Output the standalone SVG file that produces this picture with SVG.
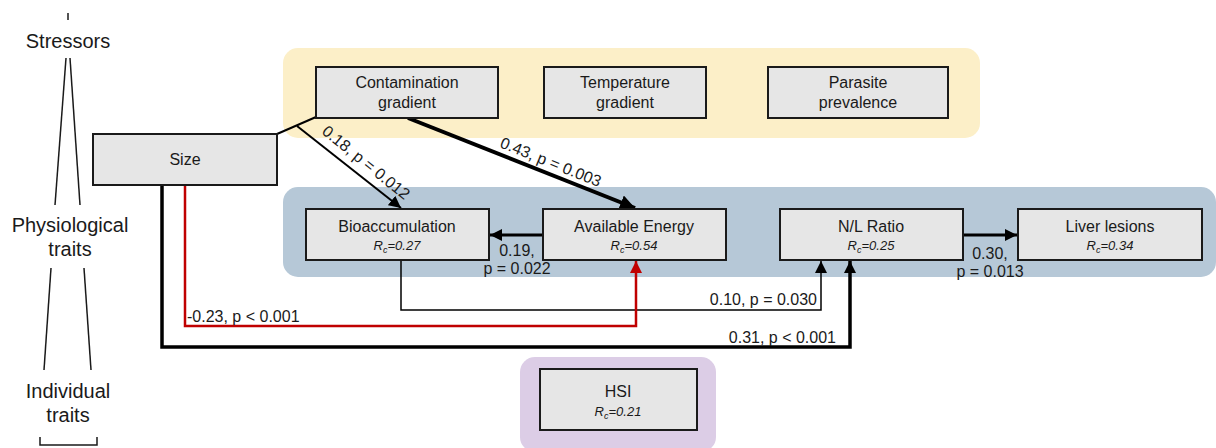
<svg xmlns="http://www.w3.org/2000/svg" width="1216" height="448" viewBox="0 0 1216 448">
<defs>
<style>
text{font-family:"Liberation Sans",Arial,sans-serif;fill:#1a1a1a}
.bg{stroke:none}
.box{fill:#e6e6e6;stroke:#1a1a1a;stroke-width:2}
.t{font-size:16px;text-anchor:middle}
.rc{font-size:13px;font-style:italic;text-anchor:middle}
.side{font-size:20px;text-anchor:middle}
.lbl{font-size:16px}
.c{fill:none;stroke:#000}
.red{stroke:#c00000}
.side-l{fill:none;stroke:#1a1a1a;stroke-width:1.5}
</style>
<marker id="ah" viewBox="0 0 10 10" refX="10" refY="5" markerWidth="12" markerHeight="12" markerUnits="userSpaceOnUse" orient="auto"><path d="M0,0 L10,5 L0,10 z" fill="#000"/></marker>
<marker id="ahb" viewBox="0 0 10 10" refX="10" refY="5" markerWidth="15" markerHeight="15" markerUnits="userSpaceOnUse" orient="auto"><path d="M0,0 L10,5 L0,10 z" fill="#000"/></marker>
<marker id="ahr" viewBox="0 0 10 10" refX="10" refY="5" markerWidth="12" markerHeight="12" markerUnits="userSpaceOnUse" orient="auto"><path d="M0,0 L10,5 L0,10 z" fill="#c00000"/></marker>
</defs>
<rect width="1216" height="448" fill="#fff"/>

<g id="side-labels">
<line class="side-l" x1="68" y1="13" x2="68" y2="20"/>
<text class="side" x="68" y="48">Stressors</text>
<line class="side-l" x1="66" y1="58" x2="55" y2="205"/>
<line class="side-l" x1="70" y1="58" x2="80" y2="205"/>
<text class="side" x="70" y="232">Physiological</text>
<text class="side" x="70" y="256">traits</text>
<line class="side-l" x1="51" y1="268" x2="44" y2="370"/>
<line class="side-l" x1="84" y1="268" x2="91" y2="370"/>
<text class="side" x="68" y="398">Individual</text>
<text class="side" x="68" y="422">traits</text>
<path class="side-l" d="M40,437 V445 H97 V437"/>
</g>

<g id="groups">
<rect class="bg" x="283" y="48" width="697" height="90" rx="15" fill="#fcefc8"/>
<rect class="bg" x="283" y="187" width="933" height="90" rx="15" fill="#b6c8d7"/>
<rect class="bg" x="520" y="357" width="196" height="95" rx="15" fill="#dccde6"/>
</g>

<g id="connectors">
<line class="c" x1="277" y1="134" x2="316" y2="117" stroke-width="2"/>
<line class="c" x1="297" y1="126" x2="401" y2="208" stroke-width="2" marker-end="url(#ah)"/>
<line class="c" x1="408" y1="118" x2="635" y2="208" stroke-width="4" marker-end="url(#ahb)"/>
<line class="c" x1="543" y1="235" x2="490" y2="235" stroke-width="3" marker-end="url(#ah)"/>
<path class="c" d="M401,260 V310 H821 V261" stroke-width="1.5" marker-end="url(#ah)"/>
<path class="c red" d="M185,185 V326 H636 V261" stroke-width="2.5" marker-end="url(#ahr)"/>
<path class="c" d="M162,185 V347 H850 V261" stroke-width="3.5" marker-end="url(#ah)"/>
<line class="c" x1="963" y1="235" x2="1017" y2="235" stroke-width="3" marker-end="url(#ah)"/>
<text class="lbl" font-size="15" transform="translate(321,133) rotate(39)">0.18, p = 0.012</text>
<text class="lbl" font-size="15" transform="translate(499,147) rotate(22)">0.43, p = 0.003</text>
<text class="lbl" x="517" y="256" text-anchor="middle">0.19,</text>
<text class="lbl" x="517" y="274" text-anchor="middle">p = 0.022</text>
<text class="lbl" x="990" y="259" text-anchor="middle">0.30,</text>
<text class="lbl" x="990" y="277" text-anchor="middle">p = 0.013</text>
<text class="lbl" x="817" y="305" text-anchor="end">0.10, p = 0.030</text>
<text class="lbl" x="187" y="322">-0.23, p &lt; 0.001</text>
<text class="lbl" x="836" y="343" text-anchor="end">0.31, p &lt; 0.001</text>
</g>

<g id="contamination">
<rect class="box" x="316" y="67" width="182" height="51"/>
<text class="t" x="407" y="88">Contamination</text>
<text class="t" x="407" y="108">gradient</text>
</g>
<g id="temperature">
<rect class="box" x="544" y="67" width="162" height="51"/>
<text class="t" x="625" y="88">Temperature</text>
<text class="t" x="625" y="108">gradient</text>
</g>
<g id="parasite">
<rect class="box" x="768" y="67" width="180" height="51"/>
<text class="t" x="858" y="88">Parasite</text>
<text class="t" x="858" y="108">prevalence</text>
</g>
<g id="size">
<rect class="box" x="93" y="134" width="184" height="51"/>
<text class="t" x="185" y="165">Size</text>
</g>
<g id="bioaccumulation">
<rect class="box" x="306" y="209" width="183" height="51"/>
<text class="t" x="397" y="232">Bioaccumulation</text>
<text class="rc" x="397" y="250">R<tspan font-size="9" dy="3">c</tspan><tspan dy="-3">=0.27</tspan></text>
</g>
<g id="energy">
<rect class="box" x="543" y="209" width="183" height="51"/>
<text class="t" x="634" y="232">Available Energy</text>
<text class="rc" x="634" y="250">R<tspan font-size="9" dy="3">c</tspan><tspan dy="-3">=0.54</tspan></text>
</g>
<g id="nl-ratio">
<rect class="box" x="780" y="209" width="183" height="51"/>
<text class="t" x="871" y="232">N/L Ratio</text>
<text class="rc" x="871" y="250">R<tspan font-size="9" dy="3">c</tspan><tspan dy="-3">=0.25</tspan></text>
</g>
<g id="liver">
<rect class="box" x="1018" y="209" width="184" height="51"/>
<text class="t" x="1110" y="232">Liver lesions</text>
<text class="rc" x="1110" y="250">R<tspan font-size="9" dy="3">c</tspan><tspan dy="-3">=0.34</tspan></text>
</g>
<g id="hsi">
<rect class="box" x="540" y="369" width="157" height="61"/>
<text class="t" x="618" y="397">HSI</text>
<text class="rc" x="618" y="416">R<tspan font-size="9" dy="3">c</tspan><tspan dy="-3">=0.21</tspan></text>
</g>
</svg>
